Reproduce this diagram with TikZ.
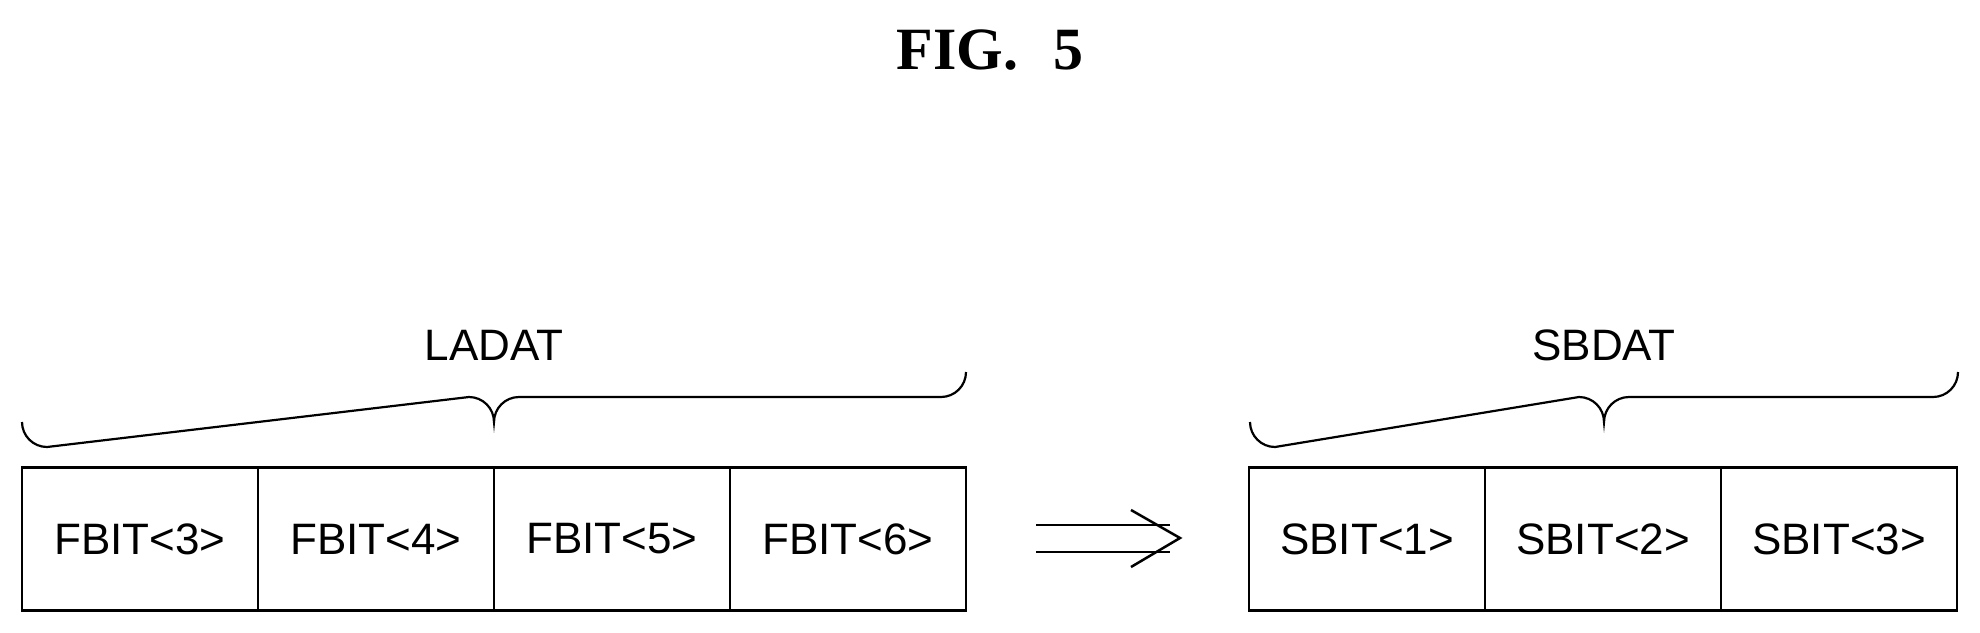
\documentclass[tikz,border=0pt]{standalone}
\usepackage{fontspec}
\setmainfont{Liberation Sans}
\newfontfamily\titlefont{Liberation Serif}
\begin{document}
\begin{tikzpicture}[x=1pt,y=-1pt,
  cell/.style={draw,line width=2.5pt,minimum width=236pt,minimum height=143pt,inner sep=0pt,font=\fontsize{44}{48}\selectfont},
  lbl/.style={font=\fontsize{44}{48}\selectfont},
  br/.style={line width=2.2pt}]
\useasboundingbox (0,0) rectangle (1980,632);
\node[font=\titlefont\bfseries\fontsize{60}{64}\selectfont] (title) at (990,50) {FIG.\,\, 5};
\foreach \i/\t in {0/3,1/4,2/5,3/6}{
  \node[cell] (f\t) at ({140+\i*236},539) {FBIT<\t>};}
\foreach \i/\t in {0/1,1/2,2/3}{
  \node[cell] (s\t) at ({1367+\i*236},539) {SBIT<\t>};}
\node[lbl] (ladat) at (494,345) {LADAT};
\node[lbl] (sbdat) at (1604,345) {SBDAT};
\draw[br] (22,422) arc[start angle=180,end angle=90,radius=25] -- (469,397) arc[start angle=-90,end angle=0,radius=25] arc[start angle=180,end angle=270,radius=25] -- (941,397) arc[start angle=90,end angle=0,radius=25];
\draw[br] (1250,422) arc[start angle=180,end angle=90,radius=25] -- (1579,397) arc[start angle=-90,end angle=0,radius=25] arc[start angle=180,end angle=270,radius=25] -- (1933,397) arc[start angle=90,end angle=0,radius=25];
\coordinate (a1) at (1036,525); \coordinate (a2) at (1170,525);
\coordinate (b1) at (1036,552); \coordinate (b2) at (1170,552);
\coordinate (tip) at (1180,538);
\draw[line width=2.5pt] (a1)--(a2) (b1)--(b2);
\draw[line width=2.5pt] (1131,510)--(tip)--(1131,567);
\end{tikzpicture}
\end{document}
